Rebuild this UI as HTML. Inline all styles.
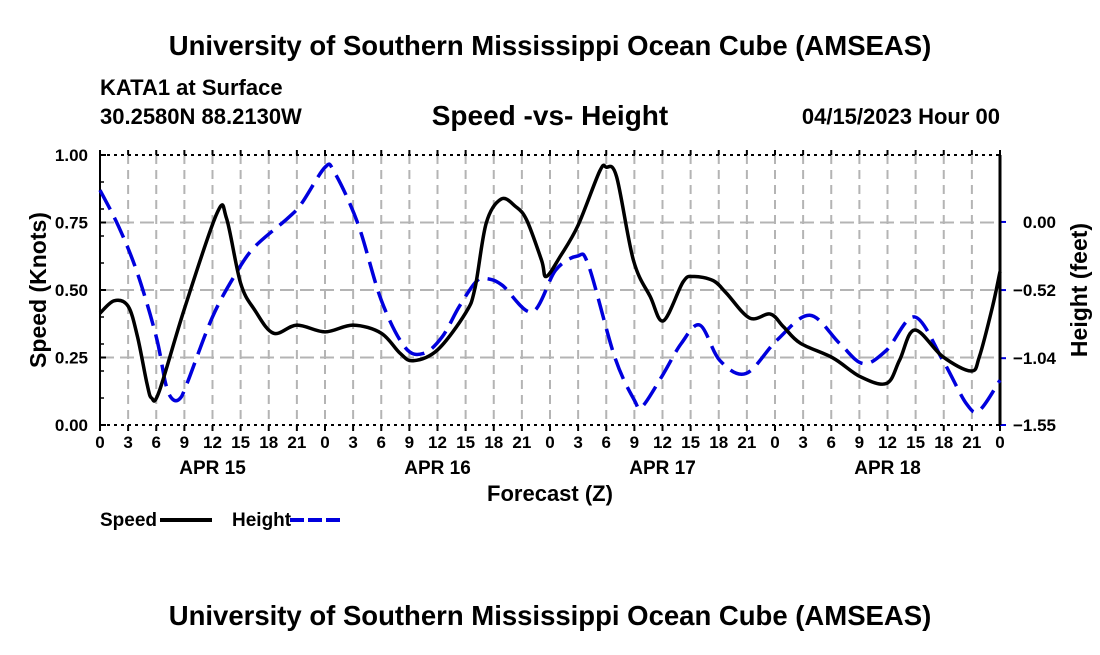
<!DOCTYPE html>
<html><head><meta charset="utf-8"><style>
body{margin:0;background:#fff;width:1100px;height:650px;overflow:hidden}
svg text{font-family:"Liberation Sans",Arial,sans-serif;font-weight:bold;fill:#000}
</style></head><body>
<svg id="c" width="1100" height="650">
<text x="550" y="55" font-size="27.5" text-anchor="middle">University of Southern Mississippi Ocean Cube (AMSEAS)</text>
<text x="100" y="95" font-size="22">KATA1 at Surface</text>
<text x="100" y="124" font-size="22">30.2580N  88.2130W</text>
<text x="550" y="125" font-size="28" text-anchor="middle">Speed -vs- Height</text>
<text x="1000" y="124" font-size="22" text-anchor="end">04/15/2023 Hour 00</text>
<text x="550" y="501" font-size="22" text-anchor="middle">Forecast (Z)</text>
<text transform="translate(46,290) rotate(-90)" font-size="23" text-anchor="middle">Speed (Knots)</text>
<text transform="translate(1087,290) rotate(-90)" font-size="23" text-anchor="middle">Height (feet)</text>
<g>
<text x="100" y="526" font-size="19">Speed</text>
<line x1="160" y1="520" x2="212" y2="520" stroke="#000" stroke-width="4"/>
<text x="232" y="526" font-size="19">Height</text>
<line x1="290" y1="520" x2="342" y2="520" stroke="#0000dd" stroke-width="4" stroke-dasharray="14,4"/>
</g>
<text x="550" y="625" font-size="27.5" text-anchor="middle">University of Southern Mississippi Ocean Cube (AMSEAS)</text>
</svg>
<script>
const speedHours=[0,1.5,3,4,5,5.5,6.3,9,12.5,13.5,15,16.5,18.5,21,24,27,30,32,33.4,36,39,40,41.2,42.8,44.3,45.5,47.1,47.6,49.1,51,53.3,54,55.1,56.9,58.7,60.1,62.2,63.3,65.4,66.8,69.3,71.5,72.9,74.7,78.2,81.1,83.9,85.3,86.9,89.9,92.9,93.8,95.2,96];
const speedValues=[0.414,0.46,0.44,0.327,0.155,0.10,0.123,0.43,0.786,0.765,0.525,0.426,0.34,0.37,0.345,0.37,0.34,0.266,0.238,0.278,0.415,0.507,0.748,0.837,0.81,0.76,0.61,0.55,0.625,0.74,0.94,0.955,0.92,0.61,0.475,0.386,0.53,0.55,0.535,0.489,0.396,0.411,0.364,0.303,0.248,0.179,0.154,0.241,0.352,0.253,0.2,0.253,0.438,0.568];
const heightHours=[0,2,4,6,7,7.7,8.5,9.3,12,14.5,16.5,20,21.5,24,25,27.5,30,32.5,34.5,36.5,38.3,40.1,41.2,42.9,46.1,48.6,50.9,52.1,54.9,57,57.8,59.9,62,64,66.1,68.9,72.2,75.7,78.9,81.4,83.9,86.9,89.9,92.4,93.8,96];
const heightValues=[0.243,-0.037,-0.393,-0.877,-1.234,-1.35,-1.35,-1.23,-0.725,-0.393,-0.19,0.027,0.141,0.417,0.38,-0.011,-0.597,-0.954,-1.004,-0.877,-0.648,-0.457,-0.432,-0.483,-0.687,-0.368,-0.261,-0.33,-1.03,-1.361,-1.412,-1.183,-0.928,-0.788,-1.056,-1.157,-0.903,-0.712,-0.928,-1.081,-0.979,-0.725,-1.056,-1.386,-1.438,-1.208];
const leftTicks=[0,0.25,0.5,0.75,1.0];
const leftTickLabels=["0.00","0.25","0.50","0.75","1.00"];
const rightTicks=[-1.55,-1.04,-0.52,0.00];
const rightTickLabels=["\u22121.55","\u22121.04","\u22120.52","0.00"];
const xTickHours=[];for(let h=0;h<=96;h+=3)xTickHours.push(h);
const dayLabels=["APR 15","APR 16","APR 17","APR 18"];

const L=100,R=1000,T=155,B=425;
const X=h=>L+h/96*(R-L);
const YL=v=>B-v*(B-T);
const RMIN=-1.55,RMAX=0.511;
const YR=v=>B-(v-RMIN)/(RMAX-RMIN)*(B-T);
const svg=document.getElementById('c');
const NS='http://www.w3.org/2000/svg';
function mk(tag,at,parent){const e=document.createElementNS(NS,tag);for(const k in at)e.setAttribute(k,at[k]);(parent||svg).appendChild(e);return e;}
const grid=mk('g',{});


xTickHours.forEach((h,i)=>{
  if(h>0&&h<96){const l=mk('line',{x1:X(h),x2:X(h),y1:T,y2:B,stroke:'#b4b4b4','stroke-width':2,'stroke-dasharray':'9,6'},grid);
  
  }
  const t=mk('text',{x:X(h),y:448,'font-size':17,'text-anchor':'middle'});
  t.textContent=String(h%24);
  
  
  mk('line',{x1:X(h),x2:X(h),y1:B,y2:B+6,stroke:'#000','stroke-width':2});
  mk('line',{x1:X(h),x2:X(h),y1:T,y2:T-5,stroke:'#000','stroke-width':2});
});
dayLabels.forEach((d,i)=>{const t=mk('text',{x:X(12+24*i),y:474,'font-size':19,'text-anchor':'middle'});t.textContent=d;

});
leftTicks.forEach((v,i)=>{
  if(v>0&&v<1){const l=mk('line',{x1:L,x2:R,y1:YL(v),y2:YL(v),stroke:'#b4b4b4','stroke-width':2,'stroke-dasharray':'14,6'},grid);
  
  }
  const t=mk('text',{x:88,y:YL(v)+6,'font-size':17,'text-anchor':'end'});t.textContent=leftTickLabels[i];
  
  
  mk('line',{x1:L,x2:L+6,y1:YL(v),y2:YL(v),stroke:'#000','stroke-width':2});
});
for(let v=0.1;v<1;v+=0.1)mk('line',{x1:L,x2:L+4,y1:YL(v),y2:YL(v),stroke:'#000','stroke-width':1.5});
rightTicks.forEach((v,i)=>{
  const t=mk('text',{x:1056,y:YR(v)+6,'font-size':17,'text-anchor':'end'});t.textContent=rightTickLabels[i];
  
  
  mk('line',{x1:R,x2:R+6,y1:YR(v),y2:YR(v),stroke:'#0000dd','stroke-width':2});
});
mk('line',{x1:L,x2:R,y1:T,y2:T,stroke:'#000','stroke-width':2,'stroke-dasharray':'3,4'});
mk('line',{x1:L,x2:R,y1:B,y2:B,stroke:'#000','stroke-width':2,'stroke-dasharray':'3,4'});
mk('line',{x1:L,x2:L,y1:T,y2:B,stroke:'#000','stroke-width':2});
mk('line',{x1:R,x2:R,y1:T,y2:B,stroke:'#000','stroke-width':3});
function smooth(hs,vs,yf){
  const p=hs.map((h,i)=>[X(h),yf(vs[i])]);
  let d='M'+p[0][0]+','+p[0][1];
  for(let i=0;i<p.length-1;i++){
    const p0=p[i-1]||p[i],p1=p[i],p2=p[i+1],p3=p[i+2]||p2;
    const c1=[p1[0]+(p2[0]-p0[0])/6,p1[1]+(p2[1]-p0[1])/6];
    const c2=[p2[0]-(p3[0]-p1[0])/6,p2[1]-(p3[1]-p1[1])/6];
    d+=`C${c1[0]},${c1[1]} ${c2[0]},${c2[1]} ${p2[0]},${p2[1]}`;
  }
  return d;
}
const hp=mk('path',{d:smooth(heightHours,heightValues,YR),fill:'none',stroke:'#0000dd','stroke-width':3.5,'stroke-dasharray':'22,9'});


const sp=mk('path',{d:smooth(speedHours,speedValues,YL),fill:'none',stroke:'#000','stroke-width':3.5});


</script>
</body></html>
